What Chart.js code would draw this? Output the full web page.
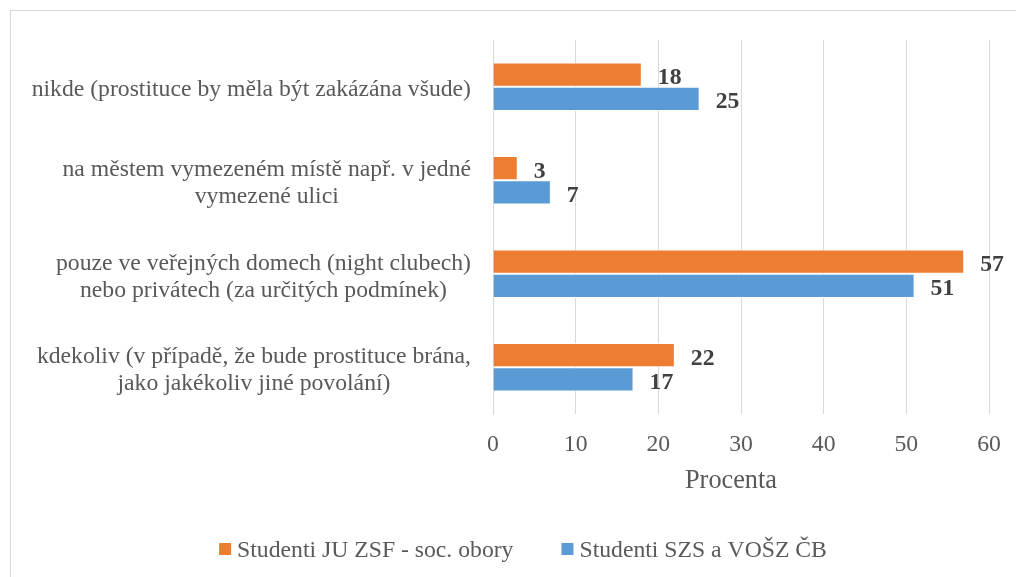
<!DOCTYPE html>
<html><head><meta charset="utf-8">
<script src="https://cdn.jsdelivr.net/npm/chart.js@4"></script>
<style>html,body{margin:0;padding:0;background:#fff}#wrap{width:1016px;height:577px;position:relative}</style>
</head><body><div id="wrap"><canvas id="c" width="1016" height="577"></canvas></div>
<script>
const categories = [
  ["nikde (prostituce by měla být zakázána všude)"],
  ["na městem vymezeném místě např. v jedné", "vymezené ulici"],
  ["pouze ve veřejných domech (night clubech)", "nebo privátech (za určitých podmínek)"],
  ["kdekoliv (v případě, že bude prostituce brána,", "jako jakékoliv jiné povolání)"]
];
const seriesNames = ["Studenti JU ZSF - soc. obory", "Studenti SZS a VOŠZ ČB"];
const seriesJU = [18, 3, 57, 22];
const seriesSZS = [25, 7, 51, 17];
const xTicks = [0, 10, 20, 30, 40, 50, 60];
const axisTitle = "Procenta";
const colors = ["#ED7D31", "#5B9BD5"];

const FONT = '"Liberation Serif", "Times New Roman", serif';
const SIZE = 23.7;

const custom = {
  id: 'custom',
  beforeDraw(chart) {
    const c = chart.ctx;
    c.save();
    c.fillStyle = '#ffffff';
    c.fillRect(0, 0, chart.width, chart.height);
    c.strokeStyle = '#d9d9d9';
    c.lineWidth = 1;
    c.strokeRect(10.5, 10.5, 1100, 700);
    c.restore();
  },
  afterDraw(chart) {
    const c = chart.ctx;
    const ys = chart.scales.y;
    const area = chart.chartArea;
    c.save();
    // category labels
    c.font = SIZE + 'px ' + FONT;
    c.fillStyle = '#595959';
    c.textAlign = 'center';
    c.textBaseline = 'alphabetic';
    const R = area.left - 22;
    categories.forEach((lines, i) => {
      const cy = ys.getPixelForValue(i);
      const w = Math.max(...lines.map(l => c.measureText(l).width));
      lines.forEach((l, k) => {
        c.fillText(l, R - w / 2, cy + (k - (lines.length - 1) / 2) * 27 + 9.5);
      });
    });
    // axis title
    c.font = '26.3px ' + FONT;
    c.fillText(axisTitle, 731, 488);
    // data labels
    c.font = 'bold ' + SIZE + 'px ' + FONT;
    c.fillStyle = '#404040';
    c.textAlign = 'left';
    chart.data.datasets.forEach((ds, di) => {
      const meta = chart.getDatasetMeta(di);
      meta.data.forEach((el, j) => {
        c.fillText(String(ds.data[j]), el.x + 16, el.y + 9.5);
      });
    });
    // legend
    c.font = SIZE + 'px ' + FONT;
    c.fillStyle = '#595959';
    const box = 12, gapText = 6, gapItem = 48;
    const widths = chart.data.datasets.map(ds => box + gapText + c.measureText(ds.label).width);
    const total = widths.reduce((a, b) => a + b, 0) + gapItem * (widths.length - 1);
    let lx = 523 - total / 2;
    const ly = 556.5;
    chart.data.datasets.forEach((ds, di) => {
      c.fillStyle = ds.backgroundColor;
      c.fillRect(lx, ly - 13.5, box, box);
      c.fillStyle = '#595959';
      c.fillText(ds.label, lx + box + gapText, ly);
      lx += widths[di] + gapItem;
    });
    c.restore();
  }
};

new Chart(document.getElementById('c'), {
  type: 'bar',
  data: {
    labels: categories,
    datasets: [
      { label: seriesNames[0], data: seriesJU, backgroundColor: colors[0], borderColor: '#ffffff', borderWidth: 1 },
      { label: seriesNames[1], data: seriesSZS, backgroundColor: colors[1], borderColor: '#ffffff', borderWidth: 1 }
    ]
  },
  options: {
    indexAxis: 'y',
    responsive: false,
    animation: false,
    devicePixelRatio: 1,
    datasets: { bar: { categoryPercentage: 0.52, barPercentage: 1 } },
    layout: { padding: { left: 10, right: 27, top: 40, bottom: 0 } },
    plugins: { legend: { display: false }, tooltip: { enabled: false } },
    scales: {
      x: {
        min: 0, max: 60,
        afterBuildTicks: s => { s.ticks = xTicks.map(v => ({ value: v })); },
        ticks: { padding: 17, color: '#595959', font: { family: FONT, size: SIZE } },
        grid: { color: '#d9d9d9', drawTicks: false },
        border: { display: false },
        afterFit: s => { s.height = 163; s.paddingLeft = 0; s.paddingRight = 0; }
      },
      y: {
        ticks: { display: false },
        grid: { display: false },
        border: { display: true, color: '#d9d9d9' },
        afterFit: s => { s.width = 483; s.paddingTop = 0; s.paddingBottom = 0; }
      }
    }
  },
  plugins: [custom]
});
</script>
</body></html>
